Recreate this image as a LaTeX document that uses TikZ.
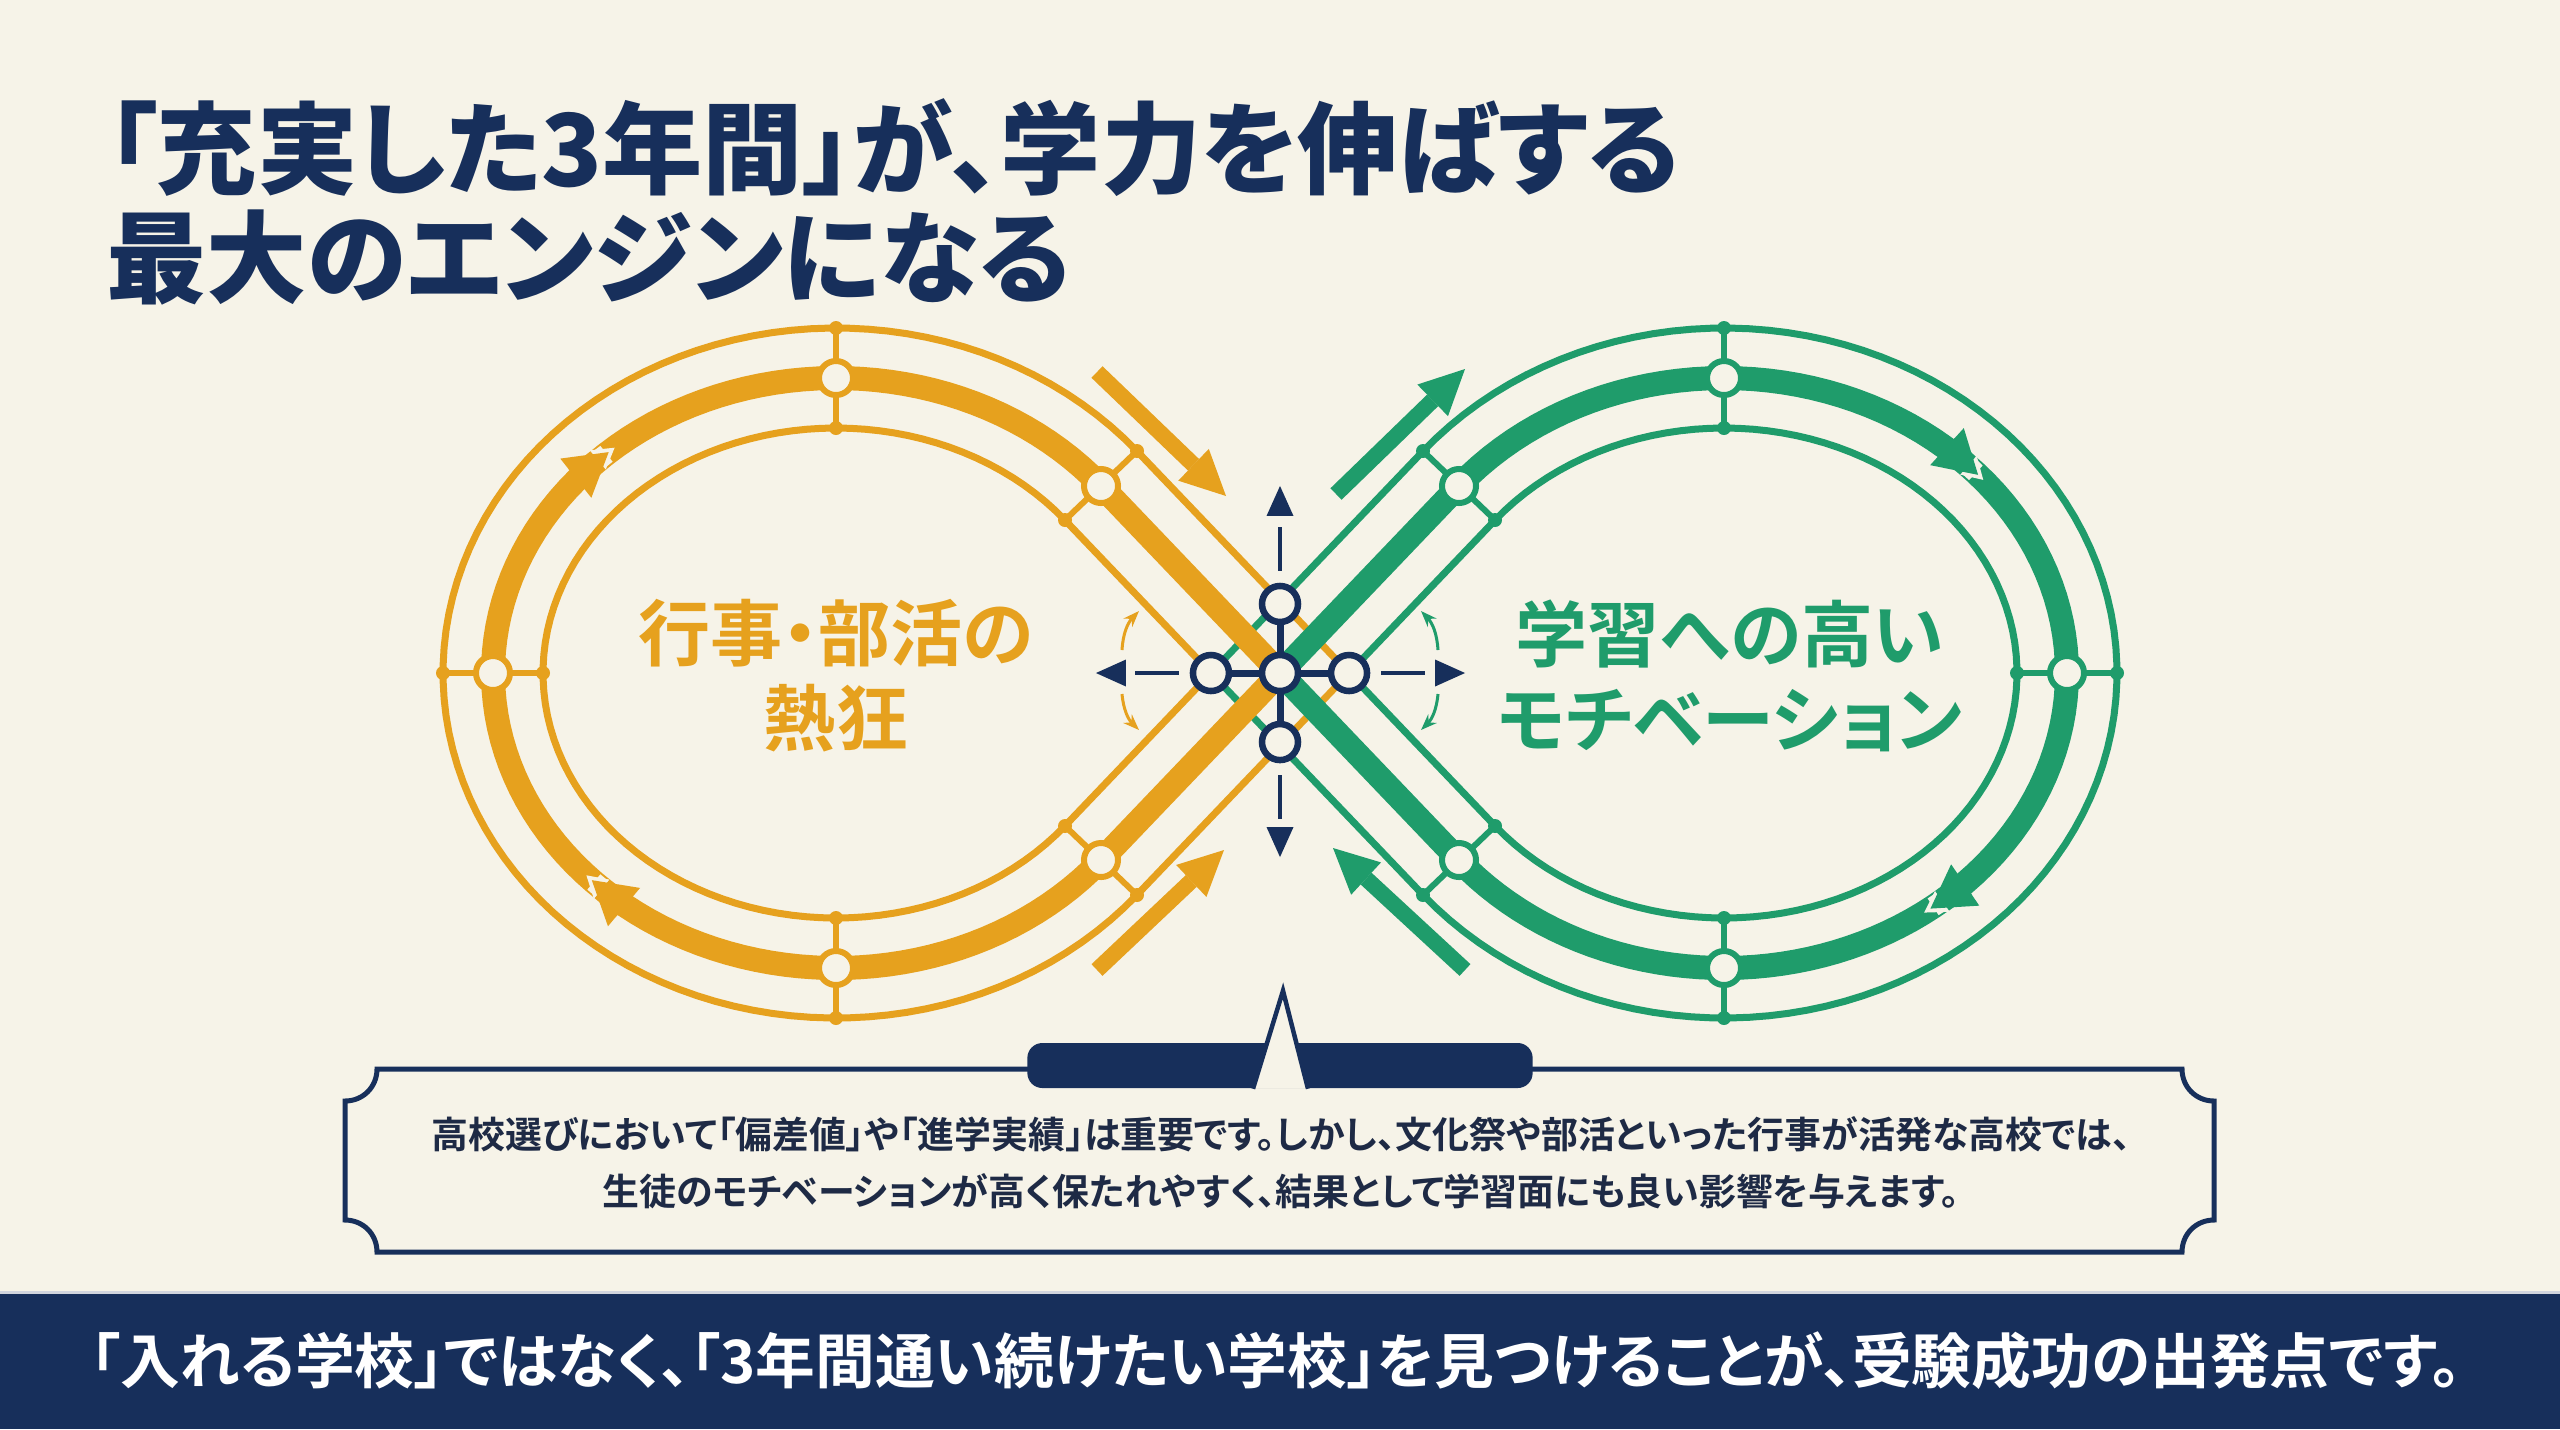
\documentclass[tikz,border=0pt]{standalone}
\usepackage{fontspec}
\usetikzlibrary{positioning,arrows.meta,calc}
\newfontfamily\jp{Noto Sans CJK JP}[BoldFont={* Bold},RawFeature=+palt]
\newfontfamily\jpblack{Noto Sans CJK JP Black}[RawFeature=+palt]
\definecolor{corange}{HTML}{E6A11E}
\definecolor{cgreen}{HTML}{1F9C6B}
\definecolor{cnavy}{HTML}{172F5B}
\definecolor{cbg}{HTML}{F6F3E8}
\definecolor{ctext}{HTML}{1E2A45}
\tikzset{
  track/.style={line width=0.07cm},
  mainline/.style={line width=0.24cm},
  haloline/.style={cbg, line width=0.2cm},
  tie/.style={line width=0.06cm},
  station/.style={circle, draw, fill=cbg, line width=0.06cm, minimum size=0.34cm, inner sep=0pt},
  hubnode/.style={circle, draw=cnavy, fill=cbg, line width=0.065cm, minimum size=0.36cm, inner sep=0pt},
  hubline/.style={draw=cnavy, line width=0.07cm},
  navyarr/.style={draw=cnavy, line width=0.045cm, dash pattern=on 0.44cm off 1cm, -{Triangle[length=0.3cm,width=0.27cm,line width=0pt]}},
  swing/.style={line width=0.03cm, -{Stealth[length=0.16cm,width=0.12cm]}},
  flow/.style={line width=0.16cm, -{Triangle[length=0.45cm,width=0.44cm,line width=0pt]}},
  mtip/.tip={Triangle[length=0.42cm,width=0.5cm,line width=0pt]},
  htip/.tip={Triangle[length=0.5cm,width=0.6cm,line width=0pt]},
  title/.style={font=\jpblack\fontsize{28.5}{34}\selectfont, text=cnavy, anchor=base west, inner sep=0pt},
  looptxt/.style={font=\jp\bfseries\fontsize{20.5}{24.2}\selectfont, align=center},
  tab/.style={fill=cnavy, rounded corners=0.15cm, minimum width=5.05cm, minimum height=0.45cm, inner sep=0pt},
}
\begin{document}
\begin{tikzpicture}[x=0.01cm, y=-0.01cm]
  \fill[cbg] (0,0) rectangle (2560,1429);
  \useasboundingbox (0,0) rectangle (2560,1429);

  \node[title] (title1) at (106,186) {「充実した3年間」が、学力を伸ばする};
  \node[title] (title2) at (106,295) {最大のエンジンになる};

  % thin rails and ties of both loops
  \foreach \cx/\s/\col in {836/1/corange, 1724/-1/cgreen}{
    \begin{scope}[shift={(\cx,673)}, xscale=\s, draw=\col, fill=\col]
      \draw[track] (513,0) -- plot[domain=-40:-320, samples=100] ({393*cos(\x)},{345*sin(\x)}) -- cycle;
      \draw[track] (375,0) -- plot[domain=-38.6:-321.4, samples=100] ({293*cos(\x)},{245*sin(\x)}) -- cycle;
      \foreach \ox/\oy/\ix/\iy in {0/-345/0/-245, 0/345/0/245, -393/0/-293/0, 301/-222/229/-153, 301/222/229/153}{
        \draw[tie] (\ox,\oy) -- (\ix,\iy);
        \fill (\ox,\oy) circle[radius=0.07cm];
        \fill (\ix,\iy) circle[radius=0.07cm];
      }
    \end{scope}
  }

  % main line, orange runs bottom -> left -> top
  \begin{scope}[shift={(836,673)}, corange]
    \draw[mainline] plot[domain=-134.5:-39.4, samples=40] ({343*cos(\x)},{295*sin(\x)}) -- (444,0);
    \draw[haloline, -htip] plot[domain=-143:-130.2, samples=8] ({343*cos(\x)},{295*sin(\x)});
    \draw[mainline, -mtip] plot[domain=-227.6:-131.5, samples=40] ({343*cos(\x)},{295*sin(\x)});
    \draw[haloline, -htip] plot[domain=-236:-223.3, samples=8] ({343*cos(\x)},{295*sin(\x)});
    \draw[mainline, -mtip] (444,0) -- plot[domain=-320.6:-224.6, samples=40] ({343*cos(\x)},{295*sin(\x)});
  \end{scope}
  % green runs top -> right -> bottom
  \begin{scope}[shift={(1724,673)}, xscale=-1, cgreen]
    \draw[mainline] (444,0) -- plot[domain=-320.6:-230, samples=40] ({343*cos(\x)},{295*sin(\x)});
    \draw[haloline, htip-] plot[domain=-234.3:-221, samples=8] ({343*cos(\x)},{295*sin(\x)});
    \draw[mainline, mtip-] plot[domain=-233:-134.8, samples=40] ({343*cos(\x)},{295*sin(\x)});
    \draw[haloline, htip-] plot[domain=-139.1:-126, samples=8] ({343*cos(\x)},{295*sin(\x)});
    \draw[mainline, mtip-] plot[domain=-137.8:-39.4, samples=40] ({343*cos(\x)},{295*sin(\x)}) -- (444,0);
  \end{scope}

  \foreach \cx/\s/\col/\n in {836/1/corange/o, 1724/-1/cgreen/g}{
    \begin{scope}[shift={(\cx,673)}, xscale=\s]
      \foreach \mx/\my [count=\i] in {0/-295, 0/295, -343/0, 265/-187, 265/187}
        \node[station, draw=\col] (st\n\i) at (\mx,\my) {};
    \end{scope}
  }

  \coordinate (oA) at (1097,372); \coordinate (oB) at (1226,496);
  \coordinate (oC) at (1097,970); \coordinate (oD) at (1224,850);
  \coordinate (gA) at (1336,494); \coordinate (gB) at (1465,369);
  \coordinate (gC) at (1465,970); \coordinate (gD) at (1333,848);
  \draw[flow, corange] (oA) -- (oB);
  \draw[flow, corange] (oC) -- (oD);
  \draw[flow, cgreen] (gA) -- (gB);
  \draw[flow, cgreen] (gC) -- (gD);

  \draw[swing, corange] (1122,650) to[bend left=20] (1139,611);
  \draw[swing, corange] (1122,694) to[bend right=20] (1139,730);
  \draw[swing, cgreen] (1438,650) to[bend right=20] (1421,611);
  \draw[swing, cgreen] (1438,694) to[bend left=20] (1421,730);

  \node[hubnode] (hub) at (1280,673) {};
  \node[hubnode, above=0.265cm of hub] (hubN) {};
  \node[hubnode, below=0.265cm of hub] (hubS) {};
  \node[hubnode, left=0.265cm of hub] (hubW) {};
  \node[hubnode, right=0.265cm of hub] (hubE) {};
  \foreach \h in {hubN,hubS,hubW,hubE} \draw[hubline] (hub) -- (\h);
  \draw[navyarr] ($(hubN)+(0,-33)$) -- ($(hubN)+(0,-118)$);
  \draw[navyarr] ($(hubS)+(0,33)$) -- ($(hubS)+(0,115)$);
  \draw[navyarr] ($(hubW)+(-32,0)$) -- ($(hubW)+(-115,0)$);
  \draw[navyarr] ($(hubE)+(32,0)$) -- ($(hubE)+(116,0)$);

  \node[looptxt, text=corange] (leftlbl) at (836,676) {行事・部活の\\熱狂};
  \node[looptxt, text=cgreen] (rightlbl) at (1730,676) {学習への高い\\モチベーション};

  % callout
  \draw[cnavy, fill=cbg, line width=0.05cm] (377,1069) -- (2182,1069)
    .. controls (2182,1087) and (2196,1101) .. (2214,1101) -- (2214,1220)
    .. controls (2196,1220) and (2182,1234) .. (2182,1252) -- (377,1252)
    .. controls (377,1234) and (363,1220) .. (345,1220) -- (345,1101)
    .. controls (363,1101) and (377,1087) .. (377,1069) -- cycle;
  \node[tab] (tab) at (1280,1065.5) {};
  \filldraw[fill=cbg, draw=cnavy, line width=0.045cm] ($(tab.south)+(-27,0)$) -- ($(tab.south)+(3,-98)$) -- ($(tab.south)+(28,0)$);
  \node[font=\jp\bfseries\fontsize{10.5}{16.2}\selectfont, text=ctext, align=center] (boxtxt) at (1281,1163)
    {高校選びにおいて「偏差値」や「進学実績」は重要です。しかし、文化祭や部活といった行事が活発な高校では、\\生徒のモチベーションが高く保たれやすく、結果として学習面にも良い影響を与えます。};

  \fill[cnavy] (0,1293) rectangle (2560,1429);
  \draw[cnavy!20, line width=0.03cm] (0,1292) -- (2560,1292);
  \node[font=\jp\bfseries\fontsize{17}{20}\selectfont, text=white] (banner) at (1276,1361)
    {「入れる学校」ではなく、「3年間通い続けたい学校」を見つけることが、受験成功の出発点です。};
\end{tikzpicture}
\end{document}
